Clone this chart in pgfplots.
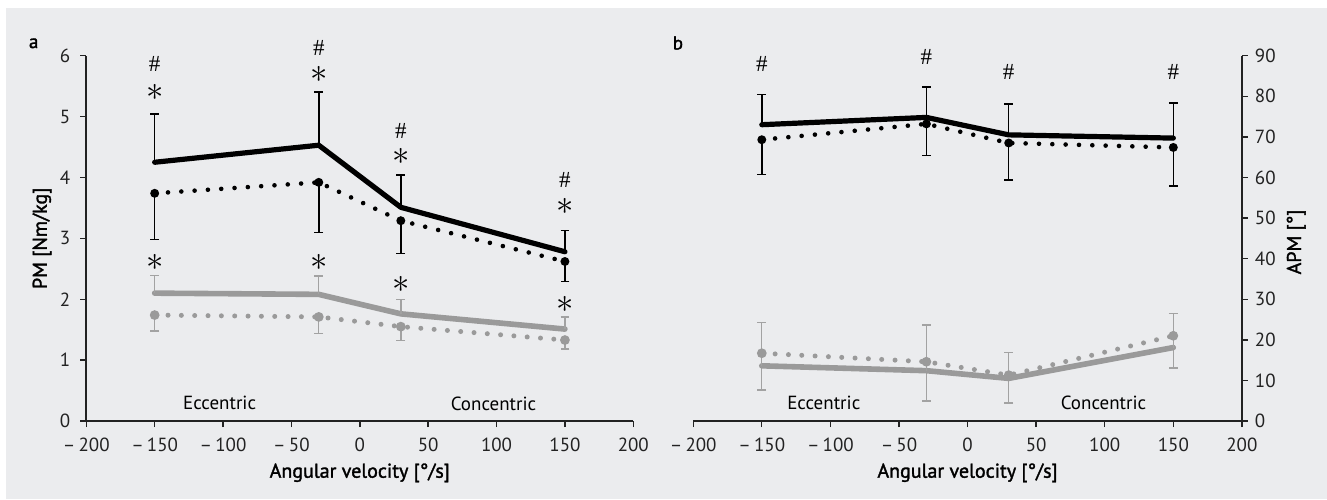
\documentclass[border=0pt]{standalone}
\usepackage{fontspec}
\setmainfont{PT Sans}
\newfontfamily\bfont{PT Sans}[FakeBold=1.6]
\newfontfamily\hashfont{Liberation Serif}
\usepackage{pgfplots}
\pgfplotsset{compat=1.18}
\definecolor{bg}{HTML}{EBECEE}
\definecolor{gline}{HTML}{9A9A9A}
\definecolor{gbar}{HTML}{A2A2A2}
\definecolor{axc}{HTML}{222222}
\newcommand{\hs}{{\hashfont\fontsize{11.5}{11.5}\selectfont\#}}
\newcommand{\st}{{\fontsize{16}{16}\selectfont$\ast$}}
\tikzset{ann/.style={inner sep=0pt}}
\pgfplotsset{
  panel/.style={
    scale only axis, height=182.65pt,
    xmin=-200, xmax=200, xtick={-200,-150,...,200},
    xticklabels={–\,200,–\,150,–\,100,–\,50,0,50,100,150,200},
    axis x line*=bottom, tick align=outside,
    axis line style={axc, line width=0.9pt},
    major tick style={axc, line width=0.7pt}, major tick length=3pt,
    tick label style={font=\fontsize{9.5}{9.5}\selectfont, text=axc},
    xticklabel style={yshift=-2pt},
    /pgf/number format/assume math mode=true,
    clip=false,
    xlabel={Angular velocity [°/s]},
    every axis x label/.style={at={(rel axis cs:0.5,-0.142)}, anchor=center, font=\bfont\fontsize{10}{10}\selectfont},
  },
  blks/.style={black, line width=2.6pt, line join=round, line cap=round,
    error bars/.cd, y dir=plus, y explicit,
    error bar style={solid, line width=0.75pt, black, line cap=butt},
    error mark options={rotate=90, mark size=2.2pt, line width=0.75pt, solid, black}},
  blkd/.style={black, line width=2.3pt, line cap=round, dash pattern=on 0pt off 6.67pt,
    mark=*, mark size=1.0pt, mark options={solid, draw=none, fill=black},
    error bars/.cd, y dir=minus, y explicit,
    error bar style={solid, line width=0.75pt, black, line cap=butt},
    error mark options={rotate=90, mark size=2.2pt, line width=0.75pt, solid, black}},
  grys/.style={gline, line width=2.8pt, line join=round, line cap=round,
    error bars/.cd, y dir=plus, y explicit,
    error bar style={solid, line width=0.7pt, gbar, line cap=butt},
    error mark options={rotate=90, mark size=2.2pt, line width=0.7pt, solid, gbar}},
  gryd/.style={gline, line width=2.5pt, line cap=round, dash pattern=on 0pt off 6.67pt,
    mark=*, mark size=1.1pt, mark options={solid, draw=none, fill=gline},
    error bars/.cd, y dir=minus, y explicit,
    error bar style={solid, line width=0.7pt, gbar, line cap=butt},
    error mark options={rotate=90, mark size=2.2pt, line width=0.7pt, solid, gbar}},
}
\begin{document}
\begin{tikzpicture}
\fill[white] (0pt,0pt) rectangle (663.5pt,-249.5pt);
\fill[bg] (3pt,-4pt) rectangle (663.5pt,-249.5pt);
\node[font=\bfont\fontsize{9.5}{9.5}\selectfont] at (16.85pt,-21.65pt) {a};
\node[font=\bfont\fontsize{9.5}{9.5}\selectfont] at (338.95pt,-21.5pt) {b};

\begin{axis}[panel, at={(43.15pt,-210.5pt)}, anchor=south west, width=273.5pt,
  ymin=0, ymax=6, ytick={0,1,...,6}, axis y line*=left,
  yticklabel style={xshift=-1.5pt},
  ylabel={PM [Nm/kg]},
  every axis y label/.style={at={(rel axis cs:-0.081,0.5)}, rotate=90, anchor=center, font=\bfont\fontsize{10}{10}\selectfont}]
\addplot[gryd] coordinates {(-150,1.74) +- (0,0.26) (-30,1.71) +- (0,0.27) (30,1.55) +- (0,0.23) (150,1.33) +- (0,0.15)};
\addplot[grys] coordinates {(-150,2.10) +- (0,0.29) (-30,2.08) +- (0,0.30) (30,1.76) +- (0,0.24) (150,1.51) +- (0,0.20)};
\addplot[blkd] coordinates {(-150,3.74) +- (0,0.76) (-30,3.92) +- (0,0.82) (30,3.29) +- (0,0.54) (150,2.62) +- (0,0.33)};
\addplot[blks] coordinates {(-150,4.25) +- (0,0.79) (-30,4.53) +- (0,0.87) (30,3.51) +- (0,0.53) (150,2.78) +- (0,0.35)};
\node[ann] at (axis cs:-150,5.86) {\hs};
\node[ann] at (axis cs:-150,5.40) {\st};
\node[ann] at (axis cs:-150,2.60) {\st};
\node[ann] at (axis cs:-30,6.12) {\hs};
\node[ann] at (axis cs:-30,5.69) {\st};
\node[ann] at (axis cs:-30,2.60) {\st};
\node[ann] at (axis cs:30,4.77) {\hs};
\node[ann] at (axis cs:30,4.34) {\st};
\node[ann] at (axis cs:30,2.25) {\st};
\node[ann] at (axis cs:150,3.96) {\hs};
\node[ann] at (axis cs:150,3.52) {\st};
\node[ann] at (axis cs:150,1.92) {\st};
\node[font=\fontsize{9.5}{9.5}\selectfont] at (axis cs:-102.5,0.29) {Eccentric};
\node[font=\fontsize{9.5}{9.5}\selectfont] at (axis cs:97.8,0.29) {Concentric};
\end{axis}

\begin{axis}[panel, at={(346.6pt,-210.5pt)}, anchor=south west, width=274.35pt,
  ymin=0, ymax=90, ytick={0,10,...,90}, axis y line*=right,
  ylabel={APM [°]},
  every axis y label/.style={at={(rel axis cs:1.099,0.49)}, rotate=90, anchor=center, font=\bfont\fontsize{10}{10}\selectfont}]
\addplot[gryd] coordinates {(-150,16.7) +- (0,9.1) (-30,14.6) +- (0,9.7) (30,11.3) +- (0,6.9) (150,21.0) +- (0,7.9)};
\addplot[grys] coordinates {(-150,13.6) +- (0,10.6) (-30,12.4) +- (0,11.3) (30,10.5) +- (0,6.4) (150,18.1) +- (0,8.4)};
\addplot[blkd] coordinates {(-150,69.3) +- (0,8.6) (-30,73.2) +- (0,7.8) (30,68.5) +- (0,9.1) (150,67.4) +- (0,9.5)};
\addplot[blks] coordinates {(-150,73.0) +- (0,7.5) (-30,74.8) +- (0,7.5) (30,70.5) +- (0,7.6) (150,69.7) +- (0,8.6)};
\node[ann] at (axis cs:-150,88.0) {\hs};
\node[ann] at (axis cs:-30,89.8) {\hs};
\node[ann] at (axis cs:30,86.1) {\hs};
\node[ann] at (axis cs:150,86.1) {\hs};
\node[font=\fontsize{9.5}{9.5}\selectfont] at (axis cs:-104.8,4.4) {Eccentric};
\node[font=\fontsize{9.5}{9.5}\selectfont] at (axis cs:99.1,4.4) {Concentric};
\end{axis}
\end{tikzpicture}
\end{document}
